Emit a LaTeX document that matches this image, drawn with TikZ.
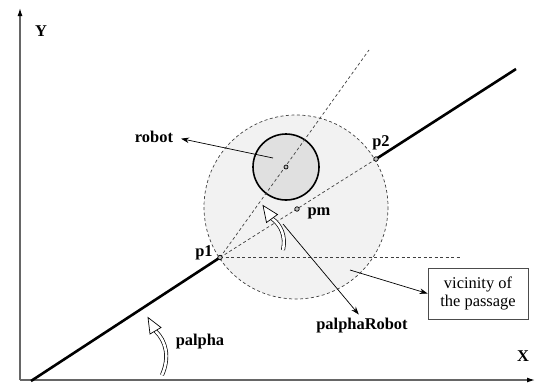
\documentclass[tikz,border=0pt]{standalone}
\usepackage{fontspec}
\setmainfont{Liberation Serif}
\usetikzlibrary{arrows.meta}
\begin{document}
\begin{tikzpicture}[x=1bp,y=-1bp,
  lbl/.style={font=\fontsize{16.5}{18}\selectfont\bfseries, inner sep=0pt},
  dashln/.style={dash pattern=on 3bp off 2.5bp, line width=0.7bp, draw=black!75},
  ptmark/.style={circle, draw, fill=gray!50, inner sep=0pt, minimum size=4.5bp, line width=0.7bp},
  ptr/.style={line width=0.7bp, -{Stealth[length=8bp,width=5.5bp]}},
  hollow/.style={double=white, double distance=2.6bp, line width=0.7bp},
  hhead/.style={fill=white, draw, line width=0.7bp, line join=miter},
  axis/.style={line width=1.3bp, draw=black!60, -{Latex[length=8bp,width=5bp,color=black]}}]
\fill[white] (0,0) rectangle (536,383);
\useasboundingbox (0,0) rectangle (536,383);
% key points
\coordinate (o) at (20,380);
\coordinate (ytop) at (20,8);
\coordinate (xend) at (535,380);
\coordinate (la) at (31,381);
\coordinate (lb) at (516,69);
\coordinate (p1) at (220,257.5);
\coordinate (p2) at (376,159);
\coordinate (pm) at (297,209);
\coordinate (rc) at (286,167);
\coordinate (rayend) at (369,50);
\coordinate (hend) at (462,257.5);
% vicinity
\fill[black!5] (296,207) circle (92);
\draw[dashln] (296,207) circle (92);
% dashed lines
\draw[dashln] (p1) -- (p2);
\draw[dashln] (p1) -- (hend);
% robot
\draw[line width=1.6bp, fill=black!12] (rc) circle (33);
\draw[dashln] (p1) -- (rayend);
% axes
\draw[axis] (o) -- (ytop);
\draw[axis] (o) -- (xend);
% wall line
\draw[line width=2.6bp] (la) -- (p1);
\draw[line width=2.6bp] (p2) -- (lb);
% markers
\node[ptmark] (m1) at (p1) {};
\node[ptmark] (m2) at (p2) {};
\node[ptmark] (mm) at (pm) {};
\node[ptmark, minimum size=4bp] (mr) at (rc) {};
% labels
\node[lbl] (ylbl) at (41,31) {Y};
\node[lbl] (xlbl) at (523,356) {X};
\node[lbl] (robotlbl) at (154,137) {robot};
\node[lbl] (p1lbl) at (204,253) {p1};
\node[lbl] (p2lbl) at (381,143) {p2};
\node[lbl] (pmlbl) at (319,213) {pm};
\node[lbl] (palbl) at (200,342) {palpha};
\node[lbl] (prlbl) at (362,326) {palphaRobot};
\node[draw=black!70, line width=0.8bp, minimum width=100bp, minimum height=51bp, align=center,
      font=\fontsize{16.5}{19}\selectfont, inner sep=2bp] (vic) at (478,293.5) {vicinity of\\the passage};
% pointer arrows
\coordinate (rin) at (273,158);
\coordinate (prs) at (283,224);
\coordinate (vs) at (350,270);
\draw[ptr, shorten >=8bp] (rin) -- (robotlbl.east);
\draw[ptr, shorten >=5bp] (prs) -- (prlbl.north);
\draw[ptr] (vs) -- (vic.west);
% hollow angle arrows
\draw[hollow] (283,250) .. controls (286,236) and (281,225) .. (272,218.5);
\draw[hhead] (263,205.5) -- (277.5,214.5) -- (266.5,222.5) -- cycle;
\draw[hollow] (162,375) .. controls (170,357) and (166,341) .. (155.5,331);
\draw[hhead] (148,317.5) -- (161,327.5) -- (150,334) -- cycle;
\end{tikzpicture}
\end{document}
